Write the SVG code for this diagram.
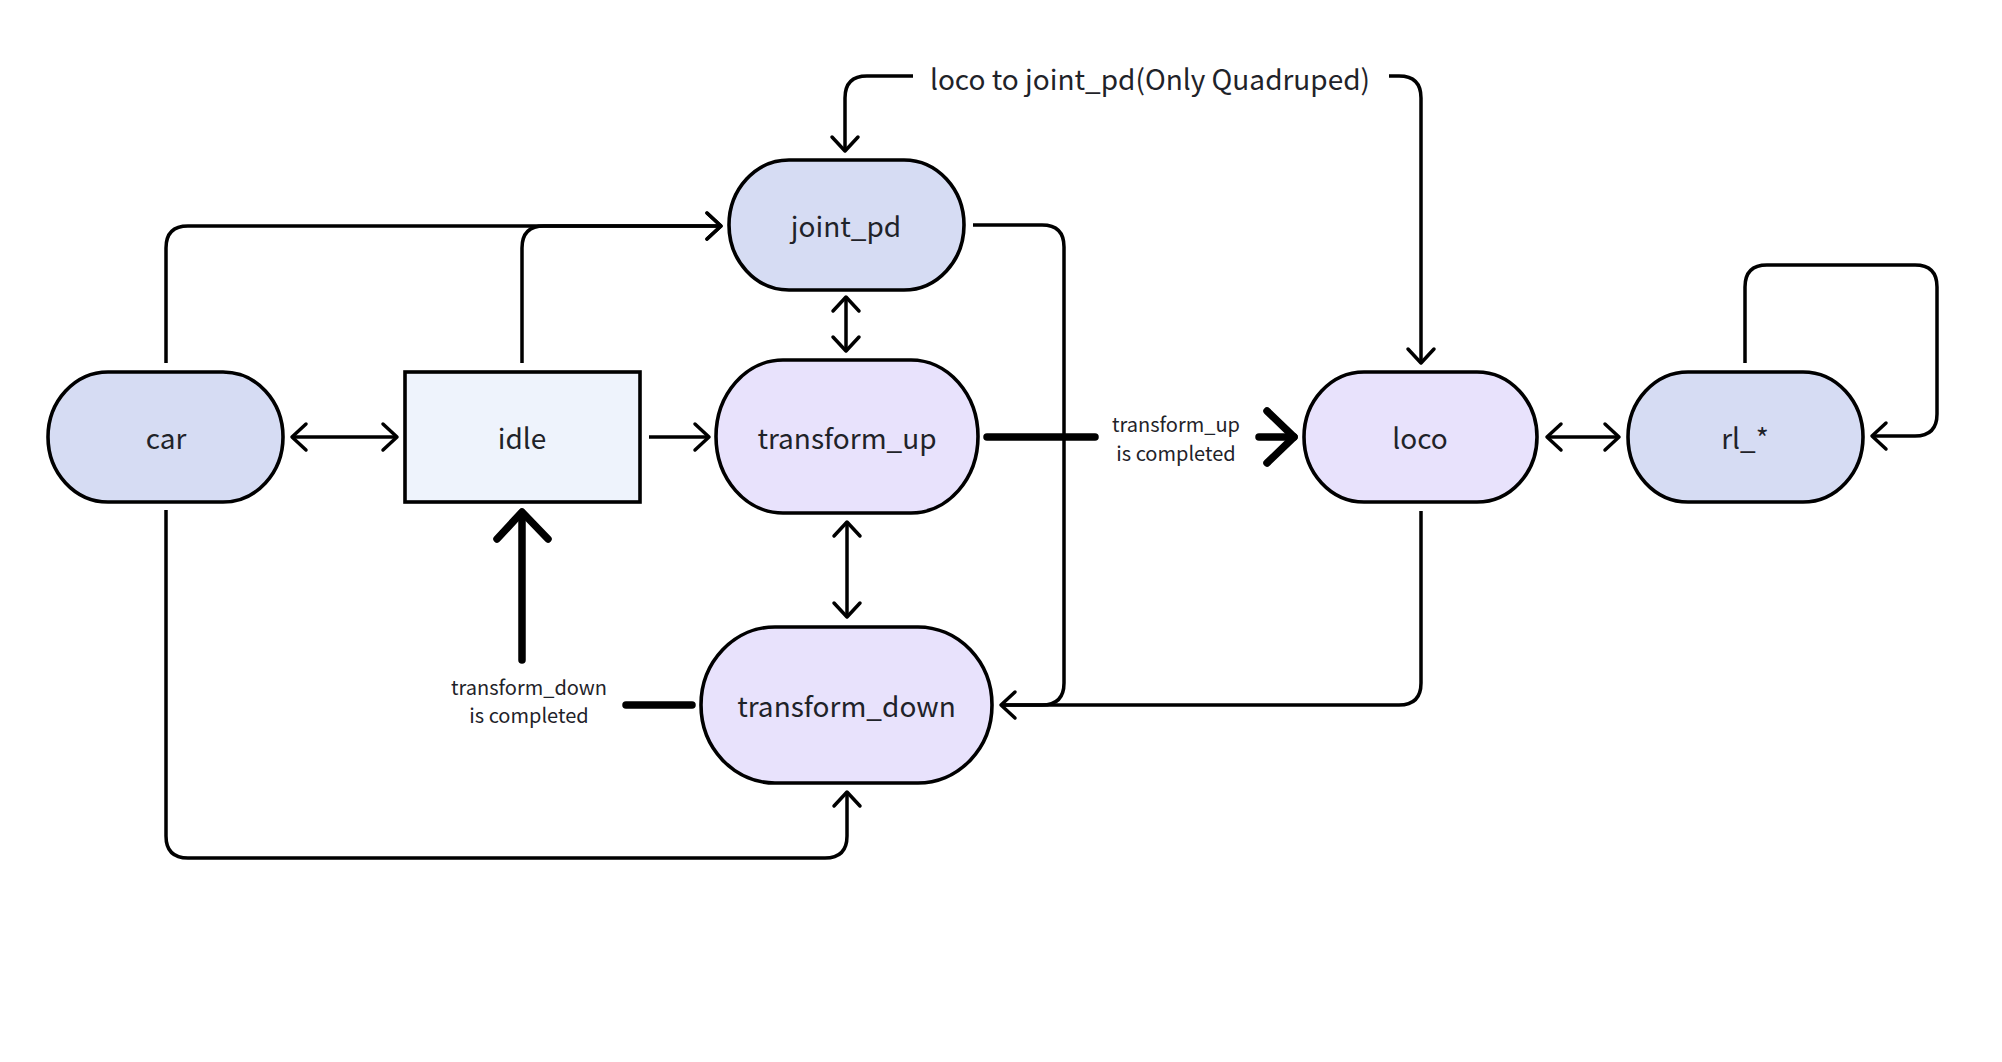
<svg xmlns="http://www.w3.org/2000/svg" width="2002" height="1062" viewBox="0 0 2002 1062">
<style>
.node{stroke:#000;stroke-width:3.6}
.blue{fill:#d6dcf3}
.lav{fill:#e8e2fc}
.pale{fill:#eef3fc}
.lbl{font-family:"Noto Sans CJK SC","Noto Sans",sans-serif;font-size:28px;fill:#1f2329;text-anchor:middle;dominant-baseline:central}
.small{font-family:"Noto Sans CJK SC","Noto Sans",sans-serif;font-size:20px;fill:#1f2329;text-anchor:middle;dominant-baseline:central}
.c{fill:none;stroke:#000;stroke-width:3.5;stroke-linejoin:round}
.thick{fill:none;stroke:#000;stroke-width:7.5;stroke-linecap:round;stroke-linejoin:round}
</style>
<defs>
<marker id="arr" markerUnits="userSpaceOnUse" markerWidth="34" markerHeight="34" viewBox="0 0 34 34" refX="17" refY="17" orient="auto-start-reverse" overflow="visible">
<path d="M3,4 L17,17 L3,30" fill="none" stroke="#000" stroke-width="3.5" stroke-linecap="round" stroke-linejoin="round"/>
</marker>
</defs>
<rect width="2002" height="1062" fill="#fff"/>
<g id="connectors">
<path class="c" d="M166,363 V248 Q166,226 188,226 H721" marker-end="url(#arr)"/>
<path class="c" d="M522,363 V248 Q522,226 544,226 H721" marker-end="url(#arr)"/>
<path class="c" d="M292,437 H397" marker-start="url(#arr)" marker-end="url(#arr)"/>
<path class="c" d="M649,437 H709" marker-end="url(#arr)"/>
<path class="c" d="M846,297 V351" marker-start="url(#arr)" marker-end="url(#arr)"/>
<path class="c" d="M847,522 V617" marker-start="url(#arr)" marker-end="url(#arr)"/>
<path class="c" d="M166,510 V836 Q166,858 188,858 H825 Q847,858 847,836 V792" marker-end="url(#arr)"/>
<path class="c" d="M973,225 H1042 Q1064,225 1064,247 V683 Q1064,705 1042,705 H1001" marker-end="url(#arr)"/>
<path class="c" d="M1421,511 V683 Q1421,705 1399,705 H1001"/>
<path class="c" d="M1547,437 H1619" marker-start="url(#arr)" marker-end="url(#arr)"/>
<path class="c" d="M1745,363 V287 Q1745,265 1767,265 H1915 Q1937,265 1937,287 V414 Q1937,436 1915,436 H1872" marker-end="url(#arr)"/>
<path class="c" d="M913,76 H867 Q845,76 845,98 V151" marker-end="url(#arr)"/>
<path class="c" d="M1389,76 H1399 Q1421,76 1421,98 V363" marker-end="url(#arr)"/>
<path class="thick" d="M987,437 H1095"/>
<path class="thick" d="M1259,437 H1294"/>
<path class="thick" d="M1267,411 L1294,437 L1267,463"/>
<path class="thick" d="M522,660 V513"/>
<path class="thick" d="M497,539 L522,512 L548,539"/>
<path class="thick" d="M626,705 H692"/>
<text class="small" x="1176" y="423">transform_up</text>
<text class="small" x="1176" y="452">is completed</text>
<text class="small" x="529" y="686">transform_down</text>
<text class="small" x="529" y="714">is completed</text>
<text class="lbl" x="1150" y="78">loco to joint_pd(Only Quadruped)</text>
</g>
<g id="car"><rect class="node blue" x="48" y="372" width="235" height="130" rx="60" ry="65"/><text class="lbl" x="166" y="437">car</text></g>
<g id="idle"><rect class="node pale" x="405" y="372" width="235" height="130"/><text class="lbl" x="522" y="437">idle</text></g>
<g id="joint_pd"><rect class="node blue" x="729" y="160" width="235" height="130" rx="60" ry="65"/><text class="lbl" x="846" y="225">joint_pd</text></g>
<g id="transform_up"><rect class="node lav" x="716" y="360" width="262" height="153" rx="67" ry="76.5"/><text class="lbl" x="847" y="437">transform_up</text></g>
<g id="transform_down"><rect class="node lav" x="701" y="627" width="291" height="156" rx="74" ry="78"/><text class="lbl" x="846.5" y="705">transform_down</text></g>
<g id="loco"><rect class="node lav" x="1304" y="372" width="233" height="130" rx="60" ry="65"/><text class="lbl" x="1420" y="437">loco</text></g>
<g id="rl"><rect class="node blue" x="1628" y="372" width="235" height="130" rx="60" ry="65"/><text class="lbl" x="1745" y="437">rl_*</text></g>
</svg>
